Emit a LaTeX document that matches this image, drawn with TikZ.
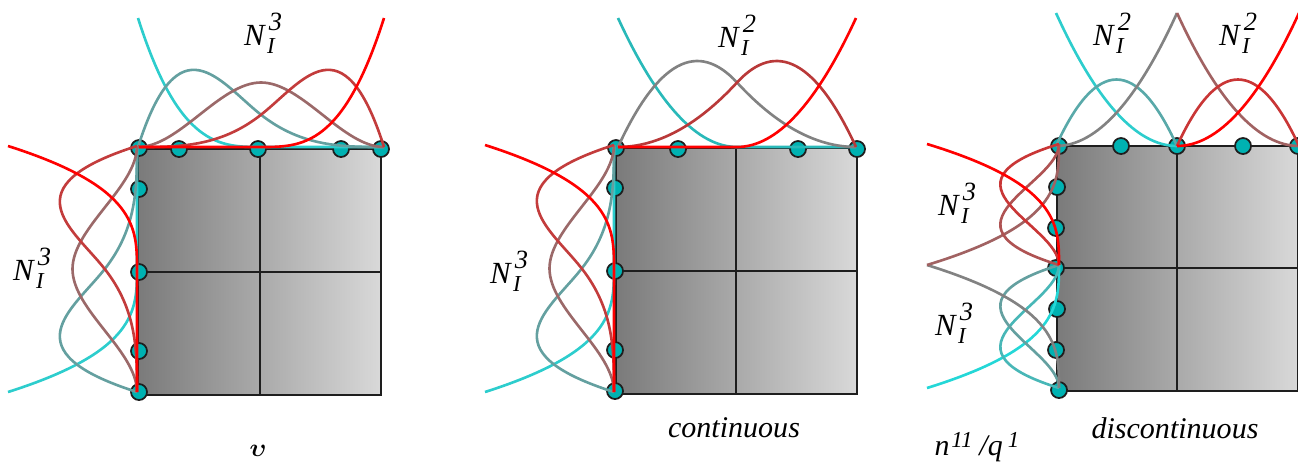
\documentclass[tikz,border=0pt]{standalone}
\usepackage{amsmath}
\usepackage{bm}
\usepackage{fontspec}
\setmainfont{Liberation Serif}
\usepackage{xcolor}
\usepackage{tikz}
\definecolor{CyanLine}{RGB}{45,205,205}
\definecolor{TealLine}{RGB}{100,160,160}
\definecolor{BrownLine}{RGB}{155,105,105}
\definecolor{RustLine}{RGB}{195,60,60}
\definecolor{RedLine}{RGB}{255,0,0}
\definecolor{GrayLine}{RGB}{130,130,130}
\definecolor{DofFill}{RGB}{0,178,178}
\definecolor{EdgeDark}{RGB}{30,30,30}
\newcommand{\scripted}[2]{{\fontsize{#1}{#1}\selectfont\textit{#2}}}
\newcommand{\Nlabel}[1]{\scripted{17.5}{N}\rlap{\kern0.6pt\raisebox{-4.6pt}{\scripted{13}{I}}}\kern1.6pt\raisebox{8pt}{\scripted{15}{#1}}}
% two elements, cubic, C2 at the middle knot
\newcommand{\cubicsplines}{
  \draw[shape line,CyanLine] (0,1) .. controls (1/6,0) and (1/3,0) .. (1/2,0) -- (1,0);
  \draw[shape line,TealLine] (0,0) .. controls (1/6,1) and (1/3,1/2) .. (1/2,1/4) .. controls (2/3,0) and (5/6,0) .. (1,0);
  \draw[shape line,BrownLine] (0,0) .. controls (1/6,0) and (1/3,1/2) .. (1/2,1/2) .. controls (2/3,1/2) and (5/6,0) .. (1,0);
  \draw[shape line,RustLine] (0,0) .. controls (1/6,0) and (1/3,0) .. (1/2,1/4) .. controls (2/3,1/2) and (5/6,1) .. (1,0);
  \draw[shape line,RedLine] (0,0) -- (1/2,0) .. controls (2/3,0) and (5/6,0) .. (1,1);
}
% two elements, quadratic, C1 at the middle knot
\newcommand{\quadsplines}{
  \draw[shape line,CyanLine!90!black] (0,1) .. controls (1/6,1/3) and (1/3,0) .. (1/2,0) -- (1,0);
  \draw[shape line,GrayLine] (0,0) .. controls (1/6,2/3) and (1/3,5/6) .. (1/2,1/2) .. controls (2/3,1/6) and (5/6,0) .. (1,0);
  \draw[shape line,RustLine!95!black] (0,0) .. controls (1/6,0) and (1/3,1/6) .. (1/2,1/2) .. controls (2/3,5/6) and (5/6,2/3) .. (1,0);
  \draw[shape line,RedLine] (0,0) -- (1/2,0) .. controls (2/3,0) and (5/6,1/3) .. (1,1);
}
% one element, quadratic, colours from first to last function
\newcommand{\quadbasis}[3]{
  \draw[shape line,#1] (0,1) .. controls (1/3,1/3) and (2/3,0) .. (1,0);
  \draw[shape line,#2] (0,0) .. controls (1/3,2/3) and (2/3,2/3) .. (1,0);
  \draw[shape line,#3] (0,0) .. controls (1/3,0) and (2/3,1/3) .. (1,1);
}
% one element, cubic
\newcommand{\cubicbasis}[4]{
  \draw[shape line,#1] (0,1) .. controls (1/3,0) and (2/3,0) .. (1,0);
  \draw[shape line,#2] (0,0) .. controls (1/3,1) and (2/3,0) .. (1,0);
  \draw[shape line,#3] (0,0) .. controls (1/3,0) and (2/3,1) .. (1,0);
  \draw[shape line,#4] (0,0) .. controls (1/3,0) and (2/3,0) .. (1,1);
}
\newcommand{\elementbox}[6]{
  \draw[box edge,left color=black!52,right color=black!15] (#1,#3) rectangle (#2,#4);
  \draw[box edge] (#5,#3) -- (#5,#4);
  \draw[box edge] (#1,#6) -- (#2,#6);
}
\tikzset{
  x=0.02cm,y=-0.02cm,
  shape line/.style={line width=1.5pt},
  box edge/.style={line width=1.1pt,draw=EdgeDark},
  dof/.style={circle,draw=EdgeDark,fill=DofFill,line width=1pt,minimum size=0.32cm,inner sep=0},
  label text/.style={font=\fontsize{17.1}{20}\selectfont,inner sep=0},
  shape label/.style={anchor=base,inner sep=0},
  top side/.style n args={4}{shift={(#1,#2)},x={(#3*0.02cm,0cm)},y={(0cm,#4*0.02cm)}},
  left side/.style n args={4}{shift={(#1,#2)},x={(0cm,#3*0.02cm)},y={(-#4*0.02cm,0cm)}}
}
\begin{document}
\begin{tikzpicture}
  \useasboundingbox (0,0) rectangle (1298,461);
  % boxes
  \elementbox{138}{381}{149}{395}{260}{272}
  \elementbox{616}{857}{148}{394}{736}{271}
  \elementbox{1057}{1298}{146}{391}{1177}{268}
  % dofs
  \foreach \x/\y [count=\i] in {139/148,179/149,258/149,341/149,381/149,139/189,139/272,139/351,139/392}
    \node[dof] (a\i) at (\x,\y) {};
  \foreach \x/\y [count=\i] in {616/148,678/149,798/149,857/149,615/188,615/271,615/350,615/391}
    \node[dof] (b\i) at (\x,\y) {};
  \foreach \x/\y [count=\i] in {1059/146,1121/146,1177/146,1243/146,1298/146,1057/187,1056/228,1056/268,1057/309,1056/350,1059/390}
    \node[dof] (c\i) at (\x,\y) {};
  % first panel
  \begin{scope}[top side={138}{147}{246}{129}]
    \cubicsplines
  \end{scope}
  \begin{scope}[left side={137}{392}{246}{129}]
    \cubicsplines
  \end{scope}
  % second panel
  \begin{scope}[top side={618}{147}{238}{129}]
    \quadsplines
  \end{scope}
  \begin{scope}[left side={614}{392}{247}{129}]
    \cubicsplines
  \end{scope}
  % third panel
  \begin{scope}[top side={1056}{146}{121}{133}]
    \quadbasis{CyanLine}{TealLine!80!CyanLine}{GrayLine}
  \end{scope}
  \begin{scope}[top side={1177}{146}{122}{133}]
    \quadbasis{BrownLine!85!RustLine}{RustLine!90!RedLine}{RedLine}
  \end{scope}
  \begin{scope}[left side={1059}{388}{123}{132}]
    \cubicbasis{CyanLine!80!cyan}{TealLine!50!CyanLine}{TealLine}{GrayLine}
  \end{scope}
  \begin{scope}[left side={1059}{265}{121}{132}]
    \cubicbasis{BrownLine!85!RustLine}{BrownLine!50!RustLine}{RustLine!90!RedLine}{RedLine}
  \end{scope}
  % labels
  \node[shape label] (ltop1) at (263,45) {\Nlabel{3}};
  \node[shape label] (lleft1) at (32,280) {\Nlabel{3}};
  \node[shape label] (ltop2) at (737,47) {\Nlabel{2}};
  \node[shape label] (lleft2) at (509,283) {\Nlabel{3}};
  \node[shape label] (ltop3) at (1112,45) {\Nlabel{2}};
  \node[shape label] (ltop4) at (1238,45) {\Nlabel{2}};
  \node[shape label] (lleft3) at (957,215) {\Nlabel{3}};
  \node[shape label] (lleft4) at (954,335) {\Nlabel{3}};
  \node[inner sep=0,font=\fontsize{15}{18}\selectfont] (lspace) at (258,451) {$\bm{\upsilon}$};
  \node[label text] (lcont) at (734,428) {\textit{continuous}};
  \node[label text] (ldisc) at (1175,428) {\textit{discontinuous}};
  \node[shape label] (lrate) at (977,455) {\scripted{17}{n}\kern1pt\raisebox{4.5pt}{\scripted{13}{11}}\kern4pt\scripted{17}{/q}\kern3pt\raisebox{4.5pt}{\scripted{13}{1}}};
\end{tikzpicture}
\end{document}
